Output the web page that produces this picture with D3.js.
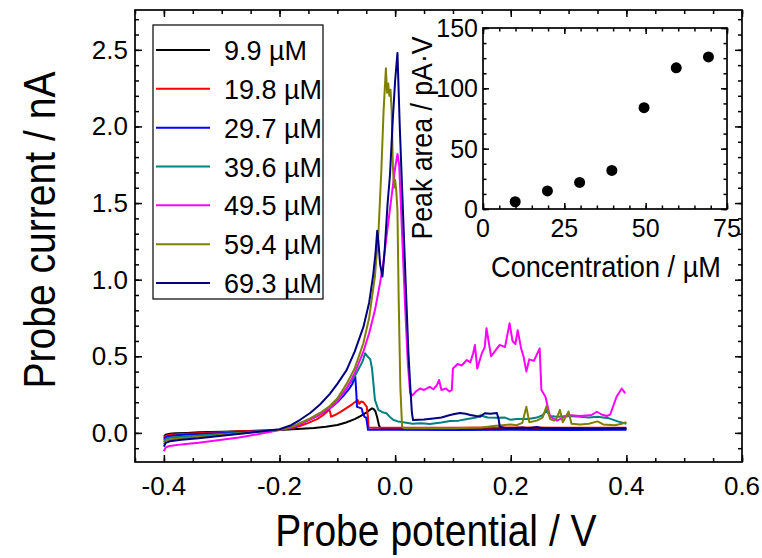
<!DOCTYPE html>
<html><head><meta charset="utf-8">
<script src="https://cdn.jsdelivr.net/npm/d3@7"></script>
<style>
html,body{margin:0;padding:0;background:#fff;}
svg text{font-family:"Liberation Sans",Arial,Helvetica,sans-serif;fill:#000;}
</style></head>
<body><svg id="c" width="762" height="558"></svg>
<script>
// ---------- data ----------
const seriesLabels = ["9.9 \u00B5M","19.8 \u00B5M","29.7 \u00B5M","39.6 \u00B5M","49.5 \u00B5M","59.4 \u00B5M","69.3 \u00B5M"];
const seriesColors = ["#000000","#ff0000","#0000ff","#008080","#ff00ff","#808000","#000080"];

const c9_9 = [[-0.400,-0.025],[-0.397,-0.012],[-0.39,-0.006],[-0.38,-0.003],[-0.36,0.0],[-0.34,0.004],[-0.3,0.008],[-0.27,0.01],[-0.24,0.014],[-0.2,0.019],[-0.17,0.025],[-0.14,0.032],[-0.12,0.04],[-0.1,0.052],[-0.085,0.068],[-0.07,0.09],[-0.06,0.11],[-0.05,0.132],[-0.044,0.15],[-0.04,0.16],[-0.037,0.155],[-0.034,0.14],[-0.031,0.1],[-0.028,0.05],[-0.025,0.027],[-0.02,0.025],[0.0,0.026],[0.05,0.025],[0.1,0.027],[0.15,0.025],[0.2,0.026],[0.25,0.025],[0.3,0.026],[0.35,0.025],[0.4,0.026]];
const c19_8 = [[-0.4,-0.035],[-0.397,-0.02],[-0.39,-0.012],[-0.37,-0.007],[-0.34,-0.002],[-0.3,0.004],[-0.26,0.01],[-0.22,0.016],[-0.2,0.02],[-0.18,0.03],[-0.165,0.045],[-0.15,0.065],[-0.135,0.09],[-0.125,0.115],[-0.118,0.138],[-0.114,0.152],[-0.112,0.13],[-0.111,0.106],[-0.105,0.115],[-0.095,0.135],[-0.085,0.16],[-0.075,0.185],[-0.068,0.205],[-0.065,0.215],[-0.062,0.19],[-0.059,0.205],[-0.055,0.2],[-0.051,0.18],[-0.049,0.17],[-0.047,0.1],[-0.046,0.035],[-0.04,0.033],[0.0,0.034],[0.1,0.033],[0.2,0.035],[0.3,0.034],[0.4,0.034]];
const c29_7 = [[-0.4,-0.045],[-0.397,-0.028],[-0.39,-0.02],[-0.37,-0.014],[-0.34,-0.008],[-0.3,-0.002],[-0.26,0.006],[-0.22,0.014],[-0.2,0.02],[-0.18,0.035],[-0.165,0.058],[-0.147,0.088],[-0.13,0.12],[-0.113,0.16],[-0.1,0.2],[-0.09,0.24],[-0.08,0.285],[-0.074,0.32],[-0.069,0.37],[-0.067,0.25],[-0.066,0.17],[-0.062,0.165],[-0.058,0.16],[-0.056,0.13],[-0.053,0.105],[-0.05,0.1],[-0.048,0.05],[-0.047,0.02],[0.0,0.02],[0.1,0.019],[0.2,0.02],[0.3,0.019],[0.4,0.02]];
const c39_6 = [[-0.4,-0.06],[-0.397,-0.04],[-0.39,-0.032],[-0.37,-0.025],[-0.34,-0.017],[-0.3,-0.008],[-0.26,0.003],[-0.22,0.013],[-0.2,0.02],[-0.18,0.036],[-0.165,0.06],[-0.147,0.09],[-0.13,0.122],[-0.113,0.165],[-0.1,0.21],[-0.084,0.29],[-0.07,0.37],[-0.06,0.44],[-0.056,0.47],[-0.052,0.52],[-0.048,0.5],[-0.043,0.48],[-0.04,0.42],[-0.038,0.34],[-0.035,0.215],[-0.029,0.15],[-0.022,0.135],[-0.015,0.128],[-0.008,0.1],[-0.003,0.084],[0.005,0.075],[0.014,0.07],[0.03,0.06],[0.045,0.063],[0.06,0.058],[0.08,0.068],[0.095,0.078],[0.11,0.08],[0.125,0.09],[0.14,0.1],[0.147,0.115],[0.16,0.1],[0.175,0.098],[0.19,0.1],[0.2,0.085],[0.21,0.09],[0.23,0.09],[0.245,0.1],[0.255,0.115],[0.262,0.145],[0.268,0.11],[0.28,0.105],[0.3,0.11],[0.32,0.105],[0.335,0.1],[0.35,0.105],[0.37,0.095],[0.385,0.075],[0.4,0.06]];
const c49_5 = [[-0.4,-0.12],[-0.397,-0.095],[-0.39,-0.085],[-0.37,-0.075],[-0.34,-0.065],[-0.3,-0.045],[-0.27,-0.03],[-0.24,-0.01],[-0.2,0.019],[-0.18,0.036],[-0.165,0.058],[-0.147,0.088],[-0.13,0.12],[-0.113,0.163],[-0.1,0.205],[-0.084,0.29],[-0.07,0.39],[-0.055,0.53],[-0.045,0.65],[-0.035,0.8],[-0.026,0.98],[-0.02,1.12],[-0.015,1.28],[-0.01,1.43],[-0.005,1.58],[0.0,1.73],[0.004,1.82],[0.007,1.75],[0.012,1.3],[0.017,0.85],[0.022,0.45],[0.026,0.26],[0.03,0.245],[0.036,0.27],[0.043,0.29],[0.05,0.28],[0.06,0.3],[0.066,0.285],[0.072,0.31],[0.076,0.345],[0.08,0.28],[0.088,0.29],[0.094,0.27],[0.098,0.28],[0.1,0.42],[0.108,0.45],[0.115,0.44],[0.124,0.476],[0.13,0.46],[0.135,0.52],[0.138,0.574],[0.142,0.42],[0.15,0.52],[0.155,0.56],[0.158,0.683],[0.162,0.59],[0.166,0.5],[0.172,0.53],[0.181,0.574],[0.19,0.56],[0.198,0.715],[0.203,0.6],[0.208,0.58],[0.212,0.67],[0.218,0.55],[0.222,0.5],[0.227,0.40],[0.232,0.48],[0.24,0.47],[0.25,0.552],[0.253,0.28],[0.26,0.236],[0.268,0.106],[0.28,0.08],[0.3,0.117],[0.32,0.11],[0.34,0.117],[0.349,0.138],[0.357,0.12],[0.366,0.11],[0.372,0.12],[0.383,0.236],[0.392,0.29],[0.398,0.258]];
const c59_4 = [[-0.4,-0.075],[-0.397,-0.052],[-0.39,-0.043],[-0.37,-0.035],[-0.34,-0.026],[-0.3,-0.013],[-0.26,0.0],[-0.23,0.01],[-0.2,0.02],[-0.18,0.038],[-0.165,0.063],[-0.147,0.095],[-0.13,0.13],[-0.113,0.175],[-0.1,0.225],[-0.084,0.32],[-0.07,0.42],[-0.055,0.585],[-0.045,0.75],[-0.035,1.02],[-0.029,1.3],[-0.024,1.7],[-0.02,2.1],[-0.016,2.38],[-0.014,2.22],[-0.012,2.28],[-0.01,2.2],[-0.008,2.24],[-0.006,2.1],[-0.004,1.75],[-0.002,1.6],[0.0,1.65],[0.002,1.58],[0.004,1.45],[0.006,0.9],[0.009,0.3],[0.012,0.04],[0.016,0.03],[0.05,0.032],[0.1,0.03],[0.15,0.035],[0.17,0.045],[0.185,0.05],[0.2,0.055],[0.21,0.05],[0.22,0.065],[0.227,0.17],[0.232,0.07],[0.245,0.08],[0.255,0.1],[0.262,0.175],[0.268,0.09],[0.275,0.08],[0.28,0.1],[0.285,0.15],[0.29,0.07],[0.3,0.14],[0.305,0.06],[0.32,0.055],[0.335,0.06],[0.35,0.075],[0.36,0.055],[0.38,0.05],[0.392,0.06],[0.4,0.07]];
const c69_3 = [[-0.4,-0.09],[-0.397,-0.065],[-0.39,-0.055],[-0.37,-0.045],[-0.34,-0.035],[-0.3,-0.018],[-0.26,-0.002],[-0.23,0.01],[-0.2,0.024],[-0.18,0.05],[-0.165,0.084],[-0.147,0.13],[-0.13,0.185],[-0.113,0.255],[-0.1,0.32],[-0.084,0.41],[-0.07,0.53],[-0.055,0.69],[-0.045,0.85],[-0.038,1.03],[-0.034,1.17],[-0.031,1.32],[-0.029,1.25],[-0.026,1.1],[-0.022,1.02],[-0.018,1.2],[-0.013,1.5],[-0.009,1.68],[-0.004,2.05],[0.0,2.3],[0.004,2.48],[0.008,2.0],[0.013,1.5],[0.018,1.0],[0.023,0.52],[0.027,0.25],[0.029,0.13],[0.031,0.084],[0.05,0.088],[0.066,0.094],[0.08,0.1],[0.095,0.117],[0.105,0.125],[0.112,0.13],[0.122,0.125],[0.13,0.117],[0.14,0.11],[0.147,0.106],[0.152,0.12],[0.155,0.128],[0.165,0.125],[0.176,0.13],[0.179,0.09],[0.181,0.04],[0.19,0.032],[0.2,0.03],[0.22,0.035],[0.23,0.03],[0.245,0.038],[0.255,0.03],[0.3,0.03],[0.35,0.028],[0.4,0.03]];
const seriesData = [c9_9, c19_8, c29_7, c39_6, c49_5, c59_4, c69_3];

const xTicks = [-0.4,-0.2,0.0,0.2,0.4,0.6];
const yTicks = [0.0,0.5,1.0,1.5,2.0,2.5];

const insetConc = [9.9,19.8,29.7,39.6,49.5,59.4,69.3];
const insetArea = [6,15,22,32,84,117,126];
const insetXTicks = [0,25,50,75];
const insetYTicks = [0,50,100,150];

// ---------- drawing ----------
const svg = d3.select("#c");

const x = d3.scaleLinear().domain([-0.45,0.6]).range([135,742]);
const y = d3.scaleLinear().domain([-0.19,2.76]).range([462,10]);

function minorVals(lo,hi,step){const a=[];for(let v=lo;v<=hi+1e-9;v+=step)a.push(+v.toFixed(6));return a;}

function frameAxes(g, xs, ys, xMaj, xMin, yMaj, yMin, majLen, minLen){
  const [x0,x1]=xs.range(), [y0,y1]=ys.range();
  const add = (tr, gen) => g.append("g").attr("transform",tr).call(gen).call(s=>s.select(".domain").remove());
  add(`translate(0,${y0})`, d3.axisBottom(xs).tickValues(xMin).tickSize(-minLen).tickFormat(""));
  add(`translate(0,${y0})`, d3.axisBottom(xs).tickValues(xMaj).tickSize(-majLen).tickFormat(""));
  add(`translate(0,${y1})`, d3.axisTop(xs).tickValues(xMin).tickSize(-minLen).tickFormat(""));
  add(`translate(0,${y1})`, d3.axisTop(xs).tickValues(xMaj).tickSize(-majLen).tickFormat(""));
  add(`translate(${x0},0)`, d3.axisLeft(ys).tickValues(yMin).tickSize(-minLen).tickFormat(""));
  add(`translate(${x0},0)`, d3.axisLeft(ys).tickValues(yMaj).tickSize(-majLen).tickFormat(""));
  add(`translate(${x1},0)`, d3.axisRight(ys).tickValues(yMin).tickSize(-minLen).tickFormat(""));
  add(`translate(${x1},0)`, d3.axisRight(ys).tickValues(yMaj).tickSize(-majLen).tickFormat(""));
  g.selectAll(".tick line").attr("stroke","#000").attr("stroke-width",1.5);
  g.append("rect").attr("x",x0).attr("y",y1).attr("width",x1-x0).attr("height",y0-y1)
    .attr("fill","none").attr("stroke","#000").attr("stroke-width",1.7);
}

// main curves
const plot = svg.append("g");
const line = d3.line().x(d=>x(d[0])).y(d=>y(d[1]));
seriesData.forEach((d,i)=>{
  plot.append("path").datum(d).attr("d",line).attr("fill","none")
    .attr("stroke",seriesColors[i]).attr("stroke-width",2).attr("stroke-linejoin","round");
});

const mainAx = svg.append("g");
frameAxes(mainAx, x, y, xTicks, minorVals(-0.45,0.6,0.05), yTicks, minorVals(-0.1,2.7,0.1), 7, 4);

// tick labels main
svg.append("g").selectAll("text").data(xTicks).join("text")
  .attr("x",d=>x(d)).attr("y",495).attr("text-anchor","middle")
  .style("font-size","26px").text(d=>d3.format(".1f")(d).replace("\u2212","-"));
svg.append("g").selectAll("text").data(yTicks).join("text")
  .attr("x",128).attr("y",d=>y(d)+9).attr("text-anchor","end")
  .style("font-size","26px").text(d=>d3.format(".1f")(d));

// axis titles
svg.append("text").attr("transform","translate(436,546) scale(0.93,1.04)").attr("text-anchor","middle")
  .style("font-size","42px").text("Probe potential / V");
svg.append("text").attr("transform","translate(55,230) rotate(-90) scale(0.93,1.04)").attr("text-anchor","middle")
  .style("font-size","42px").text("Probe current / nA");

// legend
const leg = svg.append("g");
leg.append("rect").attr("x",153).attr("y",25).attr("width",170).attr("height",274)
  .attr("fill","#fff").attr("stroke","#000").attr("stroke-width",1.2);
const legY = d3.scaleLinear().domain([0,6]).range([50,283]);
seriesLabels.forEach((s,i)=>{
  leg.append("line").attr("x1",156).attr("x2",210).attr("y1",legY(i)).attr("y2",legY(i))
    .attr("stroke",seriesColors[i]).attr("stroke-width",2);
  leg.append("text").attr("x",224).attr("y",legY(i)+10).style("font-size","27px").text(s);
});

// inset
const ix = d3.scaleLinear().domain([0,75]).range([483,727]);
const iy = d3.scaleLinear().domain([0,150]).range([209,28]);
const ins = svg.append("g");
frameAxes(ins, ix, iy, insetXTicks, minorVals(0,75,5), insetYTicks, minorVals(0,150,12.5), 6, 3.5);
ins.selectAll("circle").data(insetConc).join("circle")
  .attr("cx",d=>ix(d)).attr("cy",(d,i)=>iy(insetArea[i])).attr("r",5.5).attr("fill","#000");
ins.append("g").selectAll("text").data(insetXTicks).join("text")
  .attr("x",d=>ix(d)).attr("y",237).attr("text-anchor","middle").style("font-size","25px").text(d=>d);
ins.append("g").selectAll("text").data(insetYTicks).join("text")
  .attr("x",478).attr("y",d=>iy(d)+9).attr("text-anchor","end").style("font-size","25px").text(d=>d);
ins.append("text").attr("transform","translate(606,277) scale(0.97,1.04)").attr("text-anchor","middle")
  .style("font-size","28px").text("Concentration / \u00B5M");
ins.append("text").attr("transform","translate(432,138) rotate(-90) scale(0.92,1.04)").attr("text-anchor","middle")
  .style("font-size","29px").text("Peak area / pA\u00B7V");
</script></body></html>
